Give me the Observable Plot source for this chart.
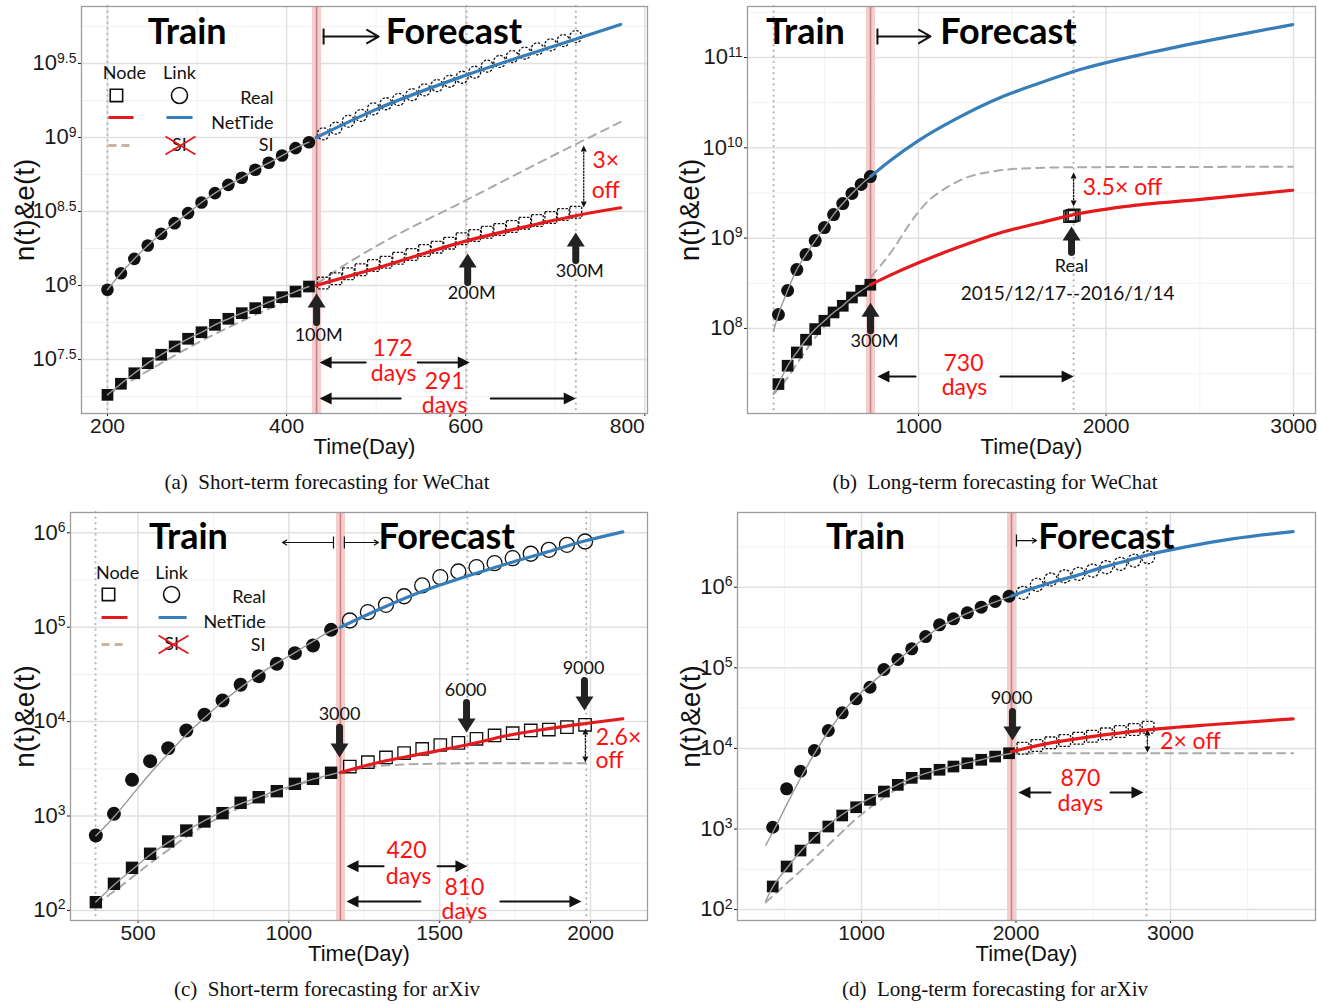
<!DOCTYPE html>
<html><head><meta charset="utf-8">
<script src="https://cdn.jsdelivr.net/npm/d3@7"></script>
<script src="https://cdn.jsdelivr.net/npm/@observablehq/plot@0.6"></script>
<style>
body{margin:0;background:#fff;}
#root{position:relative;width:1318px;height:1005px;overflow:hidden;background:#fff;}
.pan{position:absolute;}
.pan svg{overflow:visible;}
.cap{position:absolute;font-family:"Liberation Serif","Times New Roman",serif;font-size:21px;color:#111;text-align:center;white-space:pre;}
</style></head><body><div id="root"></div>
<script>
// ===== values are log10 of n(t) / e(t); x is Time(Day) =====
// ---- (a) Short-term forecasting for WeChat ----
const aTrainDays = [200,215,230,245,260,275,290,305,320,335,350,365,380,395,410,425];
const aLinkTrain = [7.971,8.083,8.180,8.270,8.349,8.421,8.489,8.561,8.624,8.680,8.728,8.782,8.829,8.878,8.928,8.968];
const aNodeTrain = [7.261,7.336,7.407,7.475,7.532,7.588,7.640,7.684,7.734,7.775,7.813,7.847,7.887,7.921,7.959,7.993];
const aForeDays = [441,455,469,483,497,511,525,540,554,568,582,596,610,624,638,652,666,680,695,709,723];
const aLinkFore = [9.025,9.063,9.110,9.149,9.194,9.228,9.257,9.289,9.322,9.351,9.380,9.407,9.441,9.482,9.514,9.547,9.570,9.599,9.626,9.655,9.682];
const aNodeFore = [8.016,8.045,8.079,8.106,8.135,8.157,8.184,8.209,8.236,8.259,8.286,8.316,8.338,8.360,8.378,8.399,8.421,8.439,8.459,8.480,8.495];
const aBlueDays = [433,500,600,700,773];
const aBlueVals = [9.0,9.19,9.42,9.62,9.764];
const aRedDays = [433,505,600,680,724,773];
const aRedVals = [8.0,8.125,8.30,8.415,8.473,8.525];
const aSIDays = [200,250,300,350,400,433,460,500,600,700,773];
const aSIVals = [7.26,7.44,7.61,7.76,7.90,8.01,8.12,8.265,8.575,8.885,9.105];
const aXTicks = [200,400,600,800], aXMinor = [300,500,700];
const aYTicks = [7.5,8,8.5,9,9.5], aYMinor = [7.25,7.75,8.25,8.75,9.25,9.75];
const aVLines = [200,601,723], aTrainEnd = 433.5;

// ---- (b) Long-term forecasting for WeChat ----
const bTrainDays = [253,302,351,400,449,498,547,596,645,694,743];
const bLinkTrain = [8.154,8.420,8.652,8.818,8.973,9.117,9.261,9.383,9.494,9.594,9.682];
const bNodeTrain = [7.384,7.587,7.734,7.875,7.993,8.085,8.177,8.251,8.343,8.417,8.484];
const bFitDays = [227,253,302,351,400,449,498,547,596,645,694,744];
const bLinkFit = [7.975,8.154,8.420,8.652,8.818,8.973,9.117,9.261,9.383,9.494,9.594,9.682];
const bNodeFit = [7.28,7.384,7.587,7.734,7.875,7.993,8.085,8.177,8.251,8.343,8.417,8.484];
const bRealDays = [1806,1814,1822,1830];
const bRealVals = [9.24,9.245,9.25,9.255];
const bBlueDays = [744,850,1000,1200,1437,1650,1827,2237,2600,2995];
const bBlueVals = [9.682,9.86,10.08,10.32,10.557,10.72,10.845,11.055,11.21,11.365];
const bRedDays = [744,850,1000,1200,1437,1650,1827,2100,2504,2995];
const bRedVals = [8.484,8.59,8.727,8.89,9.06,9.17,9.26,9.35,9.43,9.53];
const bSIDays = [227,300,355,450,550,650,744,800,872,950,1037,1150,1255,1400,1600,1831,2995];
const bSIVals = [7.27,7.45,7.62,7.90,8.14,8.33,8.565,8.70,8.90,9.15,9.38,9.56,9.67,9.74,9.775,9.785,9.79];
const bXTicks = [1000,2000,3000], bXMinor = [500,1500,2500];
const bYTicks = [8,9,10,11], bYMinor = [7.5,8.5,9.5,10.5,11.5];
const bVLines = [227,1827], bTrainEnd = 744;

// ---- (c) Short-term forecasting for arXiv ----
const cTrainDays = [360,420,480,540,600,660,720,780,840,900,960,1020,1080,1140];
const cLinkTrain = [2.793,3.023,3.383,3.581,3.717,3.906,4.072,4.224,4.390,4.481,4.612,4.725,4.806,4.972];
const cNodeTrain = [2.087,2.282,2.451,2.600,2.730,2.846,2.942,3.030,3.140,3.199,3.263,3.341,3.394,3.458];
const cForeDays = [1202,1262,1322,1382,1442,1502,1562,1622,1682,1742,1802,1862,1922,1982];
const cLinkFore = [5.071,5.159,5.237,5.328,5.442,5.530,5.590,5.636,5.678,5.731,5.778,5.820,5.873,5.908];
const cNodeFore = [3.524,3.570,3.620,3.667,3.710,3.752,3.775,3.818,3.853,3.877,3.906,3.916,3.941,3.966];
const cFitDays = [360,420,480,540,600,660,720,780,840,900,960,1020,1080,1140,1171];
const cLinkFit = [2.79,2.99,3.22,3.45,3.66,3.86,4.04,4.21,4.36,4.50,4.62,4.73,4.85,4.96,5.0];
const cNodeFit = [2.09,2.27,2.43,2.59,2.72,2.84,2.95,3.05,3.13,3.20,3.27,3.33,3.39,3.44,3.465];
const cBlueDays = [1171,1300,1443,1600,1721,1850,1984,2107];
const cBlueVals = [5.0,5.19,5.38,5.55,5.67,5.79,5.915,6.01];
const cRedDays = [1171,1300,1443,1600,1721,1850,1984,2107];
const cRedVals = [3.46,3.57,3.66,3.76,3.85,3.92,3.98,4.03];
const cSIDays = [360,420,480,540,600,660,720,780,840,900,960,1020,1080,1171,1250,1350,1500,1700,1986];
const cSIVals = [2.07,2.20,2.35,2.50,2.64,2.78,2.90,3.00,3.09,3.17,3.25,3.32,3.38,3.45,3.51,3.54,3.555,3.56,3.56];
const cXTicks = [500,1000,1500,2000], cXMinor = [750,1250,1750];
const cYTicks = [2,3,4,5,6], cYMinor = [2.5,3.5,4.5,5.5];
const cVLines = [359,1592,1986], cTrainEnd = 1171;

// ---- (d) Long-term forecasting for arXiv ----
const dTrainDays = [425,515,605,695,785,875,965,1055,1145,1235,1325,1415,1505,1595,1685,1775,1865,1955];
const dLinkTrain = [3.022,3.499,3.717,3.974,4.222,4.442,4.615,4.759,4.979,5.103,5.236,5.388,5.533,5.608,5.682,5.752,5.823,5.888];
const dNodeTrain = [2.287,2.535,2.733,2.891,3.031,3.168,3.270,3.362,3.465,3.548,3.635,3.685,3.735,3.775,3.816,3.859,3.899,3.940];
const dForeDays = [2045,2135,2225,2315,2405,2495,2585,2675,2765,2855];
const dLinkFore = [5.931,6.030,6.096,6.136,6.166,6.207,6.248,6.290,6.331,6.372];
const dNodeFore = [4.002,4.036,4.069,4.098,4.127,4.151,4.181,4.210,4.234,4.263];
const dLinkFitDays = [380,450,515,605,700,800,900,1000,1150,1300,1450,1600,1800,1971];
const dLinkFit = [2.80,3.05,3.30,3.63,3.95,4.25,4.50,4.70,4.95,5.20,5.43,5.60,5.77,5.89];
const dNodeFitDays = [380,425,515,605,695,785,875,965,1055,1145,1235,1325,1415,1505,1595,1685,1775,1865,1971];
const dNodeFit = [2.11,2.28,2.51,2.72,2.90,3.05,3.18,3.29,3.38,3.47,3.55,3.63,3.69,3.74,3.78,3.82,3.86,3.90,3.94];
const dBlueDays = [1971,2100,2250,2400,2550,2700,2852,3100,3400,3794];
const dBlueVals = [5.89,5.98,6.07,6.15,6.24,6.32,6.40,6.50,6.60,6.69];
const dRedDays = [1971,2200,2500,2852,3300,3794];
const dRedVals = [3.96,4.06,4.15,4.23,4.30,4.367];
const dSIDays = [380,478,600,702,850,968,1100,1250,1400,1600,1800,1971,2200,3794];
const dSIVals = [2.09,2.26,2.47,2.65,2.92,3.13,3.33,3.52,3.66,3.79,3.88,3.935,3.94,3.94];
const dXTicks = [1000,2000,3000], dXMinor = [500,1500,2500,3500];
const dYTicks = [2,3,4,5,6], dYMinor = [2.5,3.5,4.5,5.5,6.5];
const dVLines = [2845], dTrainEnd = 1971;

// ===== drawing helpers =====
const RED = "#e41a1c", BLUE = "#377eb8", TXTRED = "#ff1010";
const FA = "Lato, 'Open Sans', sans-serif";
const FX = "'Liberation Sans', Arial, sans-serif";
const pts = (xs, ys) => xs.map((x, i) => ({x, y: ys[i]}));
function tri(dir, w, h) {
  return {draw(ctx) {
    ctx.moveTo(0, 0);
    if (dir === "up") { ctx.lineTo(w, h); ctx.lineTo(-w, h); }
    else if (dir === "down") { ctx.lineTo(w, -h); ctx.lineTo(-w, -h); }
    else if (dir === "right") { ctx.lineTo(-h, w); ctx.lineTo(-h, -w); }
    else { ctx.lineTo(h, w); ctx.lineTo(h, -w); }
    ctx.closePath();
  }};
}
function T(x, y, s, o = {}) {
  return Plot.text([{x, y, s}], {x: "x", y: "y", text: "s", fontFamily: FA, fontSize: 18, fill: "#111", ...o});
}
const title = (x, y, s) => T(x, y, s, {fontSize: 36, fontWeight: "bold", fill: "#000"});
const redT = (x, y, s, size = 23) => T(x, y, s, {fill: TXTRED, fontSize: size});
function bigArrow(x, tip, tail, dir) {
  return [
    Plot.arrow([{x, tip, tail}], {x1: "x", y1: "tail", x2: "x", y2: "tip", headLength: 0, insetEnd: 11, strokeWidth: 7, stroke: "#222"}),
    Plot.dot([{x, tip}], {x: "x", y: "tip", symbol: tri(dir, 9, 14), fill: "#222", stroke: "none"})
  ];
}
function spanArrow(y, lTip, lIn, rIn, rTip) {
  return [
    Plot.arrow([{a: lIn, b: lTip, y}], {x1: "a", x2: "b", y1: "y", y2: "y", headLength: 0, insetEnd: 8, strokeWidth: 2, stroke: "#111"}),
    Plot.arrow([{a: rIn, b: rTip, y}], {x1: "a", x2: "b", y1: "y", y2: "y", headLength: 0, insetEnd: 8, strokeWidth: 2, stroke: "#111"}),
    Plot.dot([{x: lTip, y}], {x: "x", y: "y", symbol: tri("left", 6, 12), fill: "#111", stroke: "none"}),
    Plot.dot([{x: rTip, y}], {x: "x", y: "y", symbol: tri("right", 6, 12), fill: "#111", stroke: "none"})
  ];
}
function dotArrow(x, yTop, yBot) {
  return [
    Plot.arrow([{x, yTop, yBot}], {x1: "x", x2: "x", y1: "yTop", y2: "yBot", headLength: 0, insetStart: 4, insetEnd: 4, strokeWidth: 1.3, strokeDasharray: "1.3,1.8", stroke: "#111"}),
    Plot.dot([{x, y: yTop}], {x: "x", y: "y", symbol: tri("up", 3, 6), fill: "#111", stroke: "none"}),
    Plot.dot([{x, y: yBot}], {x: "x", y: "y", symbol: tri("down", 3, 6), fill: "#111", stroke: "none"})
  ];
}
function bracketArrow(xBar, xTip, y, y1, y2, sw, hl) {
  return [
    Plot.link([{xBar, y1, y2}], {x1: "xBar", x2: "xBar", y1: "y1", y2: "y2", strokeWidth: sw, stroke: "#111"}),
    Plot.arrow([{xBar, xTip, y}], {x1: "xBar", x2: "xTip", y1: "y", y2: "y", headLength: hl, strokeWidth: sw, stroke: "#111"})
  ];
}
function legend(L) {
  return [
    T(L.nodeX, L.headY, "Node"), T(L.linkX, L.headY, "Link"),
    T(L.rightX, L.realY, "Real", {textAnchor: "end"}),
    T(L.rightX, L.ntY, "NetTide", {textAnchor: "end"}),
    T(L.rightX, L.siY, "SI", {textAnchor: "end"}),
    Plot.dot([{x: L.sqX, y: L.symY}], {x: "x", y: "y", symbol: "square", r: 7, fill: "none", stroke: "#111", strokeWidth: 1.6}),
    Plot.dot([{x: L.linkX, y: L.symY}], {x: "x", y: "y", r: 8, fill: "none", stroke: "#111", strokeWidth: 1.6}),
    Plot.link([{a: L.lnA, b: L.lnB, y: L.lnY}], {x1: "a", x2: "b", y1: "y", y2: "y", stroke: RED, strokeWidth: 3}),
    Plot.link([{a: L.lkA, b: L.lkB, y: L.lnY}], {x1: "a", x2: "b", y1: "y", y2: "y", stroke: BLUE, strokeWidth: 3}),
    Plot.link([{a: L.lnA, b: L.lnB, y: L.siLineY}], {x1: "a", x2: "b", y1: "y", y2: "y", stroke: "#c9b39c", strokeWidth: 3, strokeDasharray: "8,5"}),
    T(L.linkX, L.siLineY, "SI"),
    Plot.link([{a: L.xA, b: L.xB, c: L.xT, d: L.xBt}], {x1: "a", x2: "b", y1: "c", y2: "d", stroke: RED, strokeWidth: 1.8}),
    Plot.link([{a: L.xA, b: L.xB, c: L.xBt, d: L.xT}], {x1: "a", x2: "b", y1: "c", y2: "d", stroke: RED, strokeWidth: 1.8})
  ];
}

function panel(c) {
  const M = [];
  M.push(Plot.ruleX(c.xMinor, {stroke: "#f2f2f2", strokeWidth: 1}));
  M.push(Plot.ruleY(c.yMinor, {stroke: "#f2f2f2", strokeWidth: 1}));
  M.push(Plot.ruleX(c.xTicks, {stroke: "#e0e0e0", strokeWidth: 1.5}));
  M.push(Plot.ruleY(c.yTicks, {stroke: "#e0e0e0", strokeWidth: 1.5}));
  M.push(Plot.ruleX(c.vlines, {stroke: "#b5b5b5", strokeWidth: 2.2, strokeDasharray: "0.1,5.5", strokeLinecap: "round"}));
  M.push(Plot.ruleX([c.trainEnd], {stroke: "#f6cccc", strokeWidth: 9}));
  M.push(Plot.ruleX([c.trainEnd], {stroke: "#c48686", strokeWidth: 1.6}));
  M.push(Plot.line(pts(c.siX, c.siY), {x: "x", y: "y", stroke: "#aaaaaa", strokeWidth: 2, strokeDasharray: "8,6", curve: "monotone-x"}));
  M.push(Plot.dot(pts(c.trainX, c.nodeTrain), {x: "x", y: "y", symbol: "square", r: c.sq, fill: "#111", stroke: "none"}));
  M.push(Plot.dot(pts(c.trainX, c.linkTrain), {x: "x", y: "y", r: c.cr, fill: "#111", stroke: "none"}));
  M.push(Plot.line(pts(c.linkFitX, c.linkFitY), {x: "x", y: "y", stroke: "#999", strokeWidth: 1.4, curve: "monotone-x"}));
  M.push(Plot.line(pts(c.nodeFitX, c.nodeFitY), {x: "x", y: "y", stroke: "#999", strokeWidth: 1.4, curve: "monotone-x"}));
  const dash = c.dash ? "2.4,1.6" : undefined;
  M.push(Plot.dot(pts(c.nodeForeX, c.nodeFore), {x: "x", y: "y", symbol: "square", r: c.sq, fill: "none", stroke: "#111", strokeWidth: 1.3, strokeDasharray: dash}));
  M.push(Plot.dot(pts(c.linkForeX, c.linkFore), {x: "x", y: "y", r: c.crF, fill: "none", stroke: "#111", strokeWidth: 1.3, strokeDasharray: dash}));
  M.push(Plot.line(pts(c.blueX, c.blueY), {x: "x", y: "y", stroke: BLUE, strokeWidth: 3.2, curve: "monotone-x"}));
  M.push(Plot.line(pts(c.redX, c.redY), {x: "x", y: "y", stroke: RED, strokeWidth: 3.2, curve: "monotone-x"}));
  M.push(...c.ann.flat());
  M.push(Plot.frame({stroke: "#9c9c9c", strokeWidth: 1.3}));
  M.push(Plot.text(["Time(Day)"], {text: d => d, frameAnchor: "bottom", dy: 33, lineAnchor: "middle", fontSize: 22, fontFamily: FX, fill: "#111"}));
  M.push(Plot.text(["n(t)&e(t)"], {text: d => d, frameAnchor: "left", rotate: -90, dx: c.ylabDx, textAnchor: "middle", lineAnchor: "middle", fontSize: 28, fontFamily: FX, fill: "#111"}));
  const svg = Plot.plot({
    width: c.w, height: c.h, marginLeft: c.ml, marginRight: c.mr, marginTop: c.mt, marginBottom: c.mb,
    style: {fontFamily: FX, fontSize: "21px", color: "#1a1a1a", background: "transparent", overflow: "visible"},
    x: {domain: c.xDomain, ticks: c.xTicks, tickFormat: d => String(d), tickSize: 3, tickPadding: 2, label: null},
    y: {domain: c.yDomain, ticks: c.yTicks, tickFormat: d => "10^" + d, tickSize: 3, tickPadding: 2, label: null},
    marks: M
  });
  const ns = "http://www.w3.org/2000/svg";
  svg.querySelectorAll("text").forEach(t => {
    const s = t.textContent;
    if (t.children.length === 0 && /^10\^/.test(s)) {
      const [b, e] = s.split("^");
      t.textContent = "";
      const t1 = document.createElementNS(ns, "tspan"); t1.textContent = b; t1.setAttribute("font-size", "22px");
      const t2 = document.createElementNS(ns, "tspan"); t2.textContent = e;
      t2.setAttribute("dy", "-0.55em"); t2.setAttribute("font-size", "14px");
      t.append(t1, t2);
    }
    if (c.endLabel && t.children.length === 0 && s === c.endLabel) t.setAttribute("text-anchor", "end");
  });
  const div = document.createElement("div");
  div.className = "pan";
  div.style.left = c.left + "px"; div.style.top = c.top + "px";
  div.appendChild(svg);
  document.getElementById("root").appendChild(div);
}
function caption(text, cx, cy) {
  const d = document.createElement("div");
  d.className = "cap"; d.textContent = text;
  d.style.left = (cx - 330) + "px"; d.style.width = "660px"; d.style.top = (cy - 13) + "px";
  document.getElementById("root").appendChild(d);
}

// ===== panel (a) =====
panel({
  w: 660, h: 460, ml: 81, mr: 13, mt: 6, mb: 47, left: 0, top: 0, ylabDx: -56, endLabel: "800",
  xDomain: [171, 803], yDomain: [7.135, 9.885],
  xTicks: aXTicks, xMinor: aXMinor, yTicks: aYTicks, yMinor: aYMinor, vlines: aVLines, trainEnd: aTrainEnd,
  trainX: aTrainDays, linkTrain: aLinkTrain, nodeTrain: aNodeTrain,
  linkFitX: aTrainDays, linkFitY: aLinkTrain, nodeFitX: aTrainDays, nodeFitY: aNodeTrain,
  nodeForeX: aForeDays, nodeFore: aNodeFore, linkForeX: aForeDays, linkFore: aLinkFore,
  blueX: aBlueDays, blueY: aBlueVals, redX: aRedDays, redY: aRedVals, siX: aSIDays, siY: aSIVals,
  cr: 6.3, crF: 6, sq: 6.6, dash: true,
  ann: [
    title(289, 9.71, "Train"), title(587, 9.71, "Forecast"),
    bracketArrow(441.3, 502.8, 9.682, 9.736, 9.628, 2, 10),
    legend({nodeX: 219, linkX: 280.4, headY: 9.432, rightX: 385.5, realY: 9.264, ntY: 9.095, siY: 8.946,
            sqX: 210, symY: 9.284, lnA: 201.1, lnB: 229.1, lkA: 265.9, lkB: 295, lnY: 9.135, siLineY: 8.946,
            xA: 264.8, xB: 298.3, xT: 9.007, xBt: 8.885}),
    bigArrow(433.5, 7.946, 7.75, "up"), T(435.8, 7.662, "100M"),
    bigArrow(602.2, 8.216, 8.02, "up"), T(606.7, 7.946, "200M"),
    bigArrow(722.9, 8.358, 8.169, "up"), T(727.4, 8.095, "300M"),
    dotArrow(731.8, 8.946, 8.527), redT(756.4, 8.845, "3×"), redT(756.4, 8.642, "off"),
    spanArrow(7.480, 436.9, 488.3, 546.4, 604.5), redT(518.4, 7.572, "172"), redT(519.6, 7.402, "days"),
    spanArrow(7.236, 436.9, 527.4, 627.9, 722.9), redT(576.5, 7.35, "291"), redT(576.5, 7.186, "days")
  ]
});

// ===== panel (b) =====
panel({
  w: 658, h: 460, ml: 87, mr: 3, mt: 6, mb: 47, left: 660, top: 0, ylabDx: -57,
  xDomain: [88, 3117], yDomain: [7.058, 11.565],
  xTicks: bXTicks, xMinor: bXMinor, yTicks: bYTicks, yMinor: bYMinor, vlines: bVLines, trainEnd: bTrainEnd,
  trainX: bTrainDays, linkTrain: bLinkTrain, nodeTrain: bNodeTrain,
  linkFitX: bFitDays, linkFitY: bLinkFit, nodeFitX: bFitDays, nodeFitY: bNodeFit,
  nodeForeX: bRealDays, nodeFore: bRealVals, linkForeX: [], linkFore: [],
  blueX: bBlueDays, blueY: bBlueVals, redX: bRedDays, redY: bRedVals, siX: bSIDays, siY: bSIVals,
  cr: 6.5, crF: 6.5, sq: 6.6, dash: false,
  ann: [
    title(397, 11.277, "Train"), title(1480, 11.277, "Forecast"),
    bracketArrow(781, 1064, 11.233, 11.321, 11.144, 2, 10),
    bigArrow(744, 8.285, 7.975, "up"), T(765, 7.855, "300M"),
    bigArrow(1816, 9.128, 8.841, "up"), T(1816, 8.686, "Real"), T(1795, 8.387, "2015/12/17--2016/1/14", {fontSize: 19}),
    dotArrow(1827, 9.726, 9.35), redT(2088, 9.56, "3.5× off"),
    spanArrow(7.467, 781, 984, 1437, 1827), redT(1240, 7.61, "730"), redT(1245, 7.34, "days")
  ]
});

// ===== panel (c) =====
panel({
  w: 660, h: 461, ml: 70, mr: 13, mt: 6, mb: 47, left: 0, top: 506, ylabDx: -45,
  xDomain: [276, 2189], yDomain: [1.893, 6.215],
  xTicks: cXTicks, xMinor: cXMinor, yTicks: cYTicks, yMinor: cYMinor, vlines: cVLines, trainEnd: cTrainEnd,
  trainX: cTrainDays, linkTrain: cLinkTrain, nodeTrain: cNodeTrain,
  linkFitX: cFitDays, linkFitY: cLinkFit, nodeFitX: cFitDays, nodeFitY: cNodeFit,
  nodeForeX: cForeDays, nodeFore: cNodeFore, linkForeX: cForeDays, linkFore: cLinkFore,
  blueX: cBlueDays, blueY: cBlueVals, redX: cRedDays, redY: cRedVals, siX: cSIDays, siY: cSIVals,
  cr: 7, crF: 7.5, sq: 7, dash: false,
  ann: [
    title(667, 5.946, "Train"), title(1523, 5.946, "Forecast"),
    bracketArrow(1148, 979, 5.897, 5.96, 5.833, 1.2, 6),
    bracketArrow(1184, 1297, 5.897, 5.96, 5.833, 1.2, 6),
    legend({nodeX: 432, linkX: 611, headY: 5.57, rightX: 923, realY: 5.315, ntY: 5.051, siY: 4.807,
            sqX: 402, symY: 5.347, lnA: 379, lnB: 465, lkA: 568, lkB: 661, lnY: 5.103, siLineY: 4.817,
            xA: 568, xB: 667, xT: 4.912, xBt: 4.722}),
    bigArrow(1168, 3.620, 3.94, "down"), T(1168, 4.077, "3000"),
    bigArrow(1589, 3.885, 4.203, "down"), T(1586, 4.331, "6000"),
    bigArrow(1980, 4.118, 4.436, "down"), T(1977, 4.564, "9000"),
    dotArrow(1983, 3.928, 3.568), redT(2093, 3.833, "2.6×"), redT(2063, 3.59, "off"),
    spanArrow(2.467, 1191, 1314, 1493, 1592), redT(1390, 2.632, "420"), redT(1397, 2.36, "days"),
    spanArrow(2.095, 1191, 1436, 1701, 1970), redT(1582, 2.24, "810"), redT(1582, 1.985, "days")
  ]
});

// ===== panel (d) =====
panel({
  w: 658, h: 461, ml: 77, mr: 3, mt: 6, mb: 47, left: 660, top: 506, ylabDx: -46,
  xDomain: [197, 3939], yDomain: [1.865, 6.927],
  xTicks: dXTicks, xMinor: dXMinor, yTicks: dYTicks, yMinor: dYMinor, vlines: dVLines, trainEnd: dTrainEnd,
  trainX: dTrainDays, linkTrain: dLinkTrain, nodeTrain: dNodeTrain,
  linkFitX: dLinkFitDays, linkFitY: dLinkFit, nodeFitX: dNodeFitDays, nodeFitY: dNodeFit,
  nodeForeX: dForeDays, nodeFore: dNodeFore, linkForeX: dForeDays, linkFore: dLinkFore,
  blueX: dBlueDays, blueY: dBlueVals, redX: dRedDays, redY: dRedVals, siX: dSIDays, siY: dSIVals,
  cr: 6.5, crF: 6.5, sq: 6.6, dash: true,
  ann: [
    title(1026, 6.617, "Train"), title(2586, 6.617, "Forecast"),
    bracketArrow(2003, 2133, 6.579, 6.654, 6.505, 1.2, 6),
    bigArrow(1977, 4.098, 4.458, "down"), T(1971, 4.619, "9000"),
    dotArrow(2851, 4.234, 3.949), redT(3129, 4.086, "2× off"),
    spanArrow(3.453, 2016, 2223, 2612, 2825), redT(2417, 3.625, "870"), redT(2417, 3.32, "days")
  ]
});

caption("(a)  Short-term forecasting for WeChat", 327, 483);
caption("(b)  Long-term forecasting for WeChat", 995, 483);
caption("(c)  Short-term forecasting for arXiv", 327, 990);
caption("(d)  Long-term forecasting for arXiv", 995, 990);
</script></body></html>
